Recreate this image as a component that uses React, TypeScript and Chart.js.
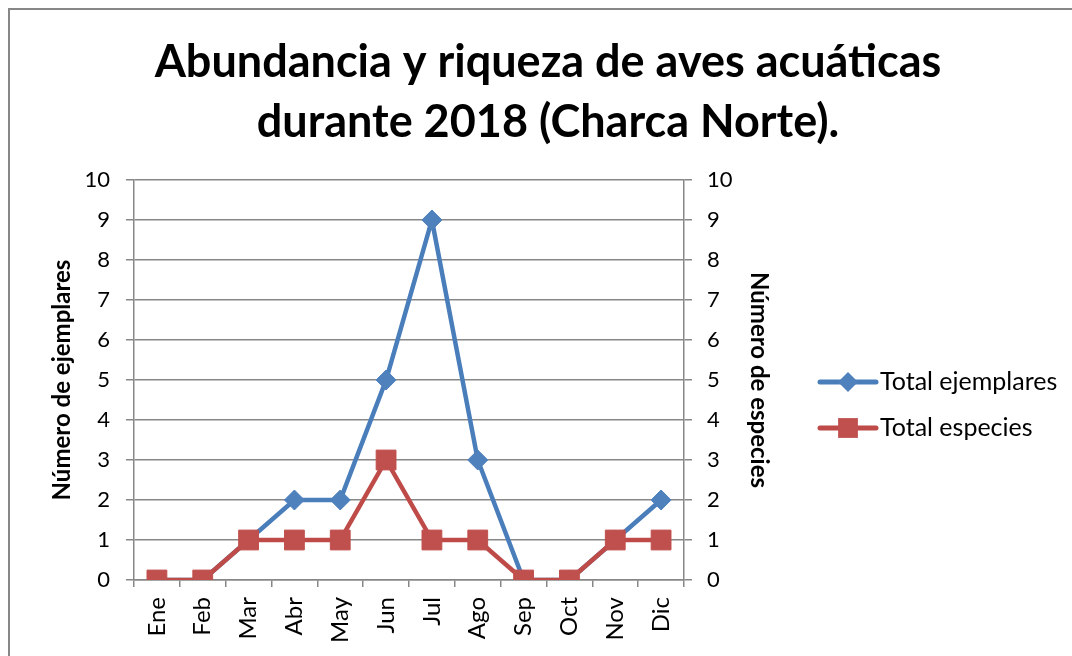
import { useEffect, useRef } from "react";
import { Chart, registerables } from "chart.js";

Chart.register(...registerables);

const months = ["Ene", "Feb", "Mar", "Abr", "May", "Jun", "Jul", "Ago", "Sep", "Oct", "Nov", "Dic"];
const totalEjemplares = [0, 0, 1, 2, 2, 5, 9, 3, 0, 0, 1, 2];
const totalEspecies = [0, 0, 1, 1, 1, 3, 1, 1, 0, 0, 1, 1];
const titleLines = ["Abundancia y riqueza de aves acuáticas", "durante 2018 (Charca Norte)."];
const leftAxisTitle = "Número de ejemplares";
const rightAxisTitle = "Número de especies";
const seriesNames = ["Total ejemplares", "Total especies"];
const axisMin = 0;
const axisMax = 10;
const axisStep = 1;

const FONT = "Lato, 'Open Sans', sans-serif";
const GRID = "#878787";
const BLUE = "#4A7EBB";
const BLUE_PT = "#4F81BD";
const RED = "#BE4B48";
const RED_PT = "#C0504D";

const W = 1072;
const H = 656;

const frame = {
  id: "frame",
  beforeDraw(chart: any) {
    const ctx = chart.ctx;
    ctx.save();
    ctx.fillStyle = "#ffffff";
    ctx.fillRect(0, 0, chart.width, chart.height);
    ctx.strokeStyle = GRID;
    ctx.lineWidth = 2;
    ctx.strokeRect(9, 9, chart.width, chart.height);
    ctx.restore();
  },
};

const sideLegend = {
  id: "sideLegend",
  afterDraw(chart: any) {
    const ctx = chart.ctx;
    const rows = [382, 428];
    ctx.save();
    chart.data.datasets.forEach((ds: any, i: number) => {
      const y = rows[i];
      const x0 = 820;
      const x1 = 876;
      const cx = (x0 + x1) / 2;
      ctx.strokeStyle = ds.borderColor;
      ctx.lineWidth = 5;
      ctx.lineCap = "round";
      ctx.beginPath();
      ctx.moveTo(x0, y);
      ctx.lineTo(x1, y);
      ctx.stroke();
      ctx.fillStyle = ds.pointBackgroundColor;
      ctx.beginPath();
      if (ds.pointStyle === "rectRot") {
        const r = ds.pointRadius;
        ctx.moveTo(cx - r, y);
        ctx.lineTo(cx, y - r);
        ctx.lineTo(cx + r, y);
        ctx.lineTo(cx, y + r);
        ctx.closePath();
      } else {
        const s = ds.pointRadius * Math.SQRT1_2;
        ctx.rect(cx - s, y - s, 2 * s, 2 * s);
      }
      ctx.fill();
      ctx.fillStyle = "#000000";
      ctx.font = `25px ${FONT}`;
      ctx.textBaseline = "middle";
      ctx.textAlign = "left";
      ctx.fillText(seriesNames[i], 880, y);
    });
    ctx.restore();
  },
};

export default function App() {
  const ref = useRef<HTMLCanvasElement | null>(null);

  useEffect(() => {
    if (!ref.current) return;
    const chart = new Chart(ref.current, {
      type: "line",
      data: {
        labels: months,
        datasets: [
          {
            label: seriesNames[0],
            data: totalEjemplares,
            yAxisID: "y",
            borderColor: BLUE,
            backgroundColor: BLUE_PT,
            borderWidth: 4.5,
            pointStyle: "rectRot",
            pointRadius: 10,
            pointHoverRadius: 10,
            pointBackgroundColor: BLUE_PT,
            pointBorderColor: BLUE_PT,
            pointBorderWidth: 1,
            tension: 0,
            order: 2,
          },
          {
            label: seriesNames[1],
            data: totalEspecies,
            yAxisID: "y1",
            borderColor: RED,
            backgroundColor: RED_PT,
            borderWidth: 4.5,
            pointStyle: "rect",
            pointRadius: 14,
            pointHoverRadius: 14,
            pointBackgroundColor: RED_PT,
            pointBorderColor: RED_PT,
            pointBorderWidth: 1,
            tension: 0,
            order: 1,
          },
        ] as any,
      },
      options: {
        responsive: false,
        animation: false,
        devicePixelRatio: 1,
        layout: { padding: { top: 0, left: 24, right: 0, bottom: 0 } },
        plugins: {
          legend: { display: false },
          tooltip: { enabled: false },
          title: {
            display: true,
            text: titleLines,
            color: "#000000",
            font: { family: FONT, size: 45, weight: "bold", lineHeight: 60 / 45 },
            padding: { top: 32, bottom: 28 },
          },
        },
        scales: {
          x: {
            type: "category",
            offset: true,
            grid: {
              display: true,
              drawOnChartArea: false,
              offset: true,
              tickLength: 7,
              color: GRID,
              lineWidth: 1.5,
            },
            border: { display: true, color: GRID, width: 1.5 },
            ticks: {
              minRotation: 90,
              maxRotation: 90,
              autoSkip: false,
              padding: 10,
              color: "#000000",
              font: { family: FONT, size: 24 },
            },
            afterFit(scale: any) {
              scale.height = 76;
            },
          },
          y: {
            position: "left",
            min: axisMin,
            max: axisMax,
            ticks: {
              stepSize: axisStep,
              padding: 16,
              color: "#000000",
              font: { family: FONT, size: 22 },
            },
            grid: { color: GRID, lineWidth: 1.5, tickLength: 8 },
            border: { display: true, color: GRID, width: 1.5 },
            title: {
              display: true,
              text: leftAxisTitle,
              color: "#000000",
              font: { family: FONT, size: 24, weight: "bold", lineHeight: 1.2 },
              padding: { top: 23.6, bottom: 0 },
            },
            afterFit(scale: any) {
              scale.width = 110;
            },
          },
          y1: {
            position: "right",
            min: axisMin,
            max: axisMax,
            ticks: {
              stepSize: axisStep,
              padding: 15,
              color: "#000000",
              font: { family: FONT, size: 22 },
            },
            grid: { drawOnChartArea: false, color: GRID, lineWidth: 1.5, tickLength: 8 },
            border: { display: true, color: GRID, width: 1.5 },
            title: {
              display: true,
              text: rightAxisTitle,
              color: "#000000",
              font: { family: FONT, size: 24, weight: "bold", lineHeight: 1.2 },
              padding: { top: 298.6, bottom: 0 },
            },
            afterFit(scale: any) {
              scale.width = 388;
            },
          },
        },
      } as any,
      plugins: [frame, sideLegend],
    });
    return () => chart.destroy();
  }, []);

  return (
    <div style={{ position: "absolute", left: 0, top: 0, width: W, height: H, background: "#fff" }}>
      <canvas ref={ref} width={W} height={H} style={{ width: W, height: H, display: "block" }} />
    </div>
  );
}
